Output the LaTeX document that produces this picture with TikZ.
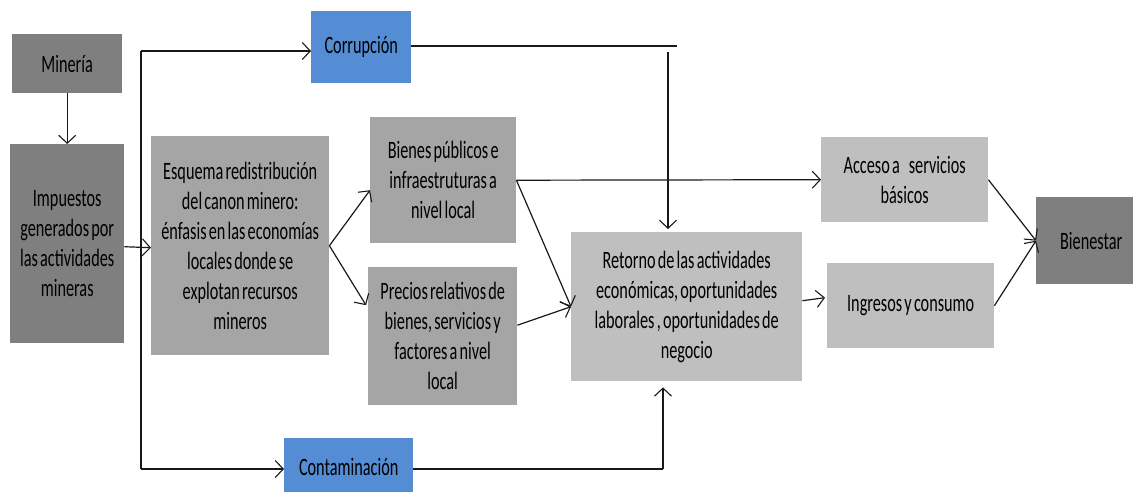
\documentclass[tikz,border=0pt]{standalone}
\usepackage{fontspec}
\setmainfont{Carlito}[FakeStretch=0.65, WordSpace=0.6]
\usetikzlibrary{calc, arrows.meta}
\definecolor{boxDark}{HTML}{7F7F7F}
\definecolor{boxMid}{HTML}{A5A5A5}
\definecolor{boxLight}{HTML}{BFBFBF}
\definecolor{boxBlue}{HTML}{548DD4}
\tikzset{
  stage box/.style={anchor=north west, inner sep=2pt, align=center, text=black,
    font=\fontsize{25}{30}\selectfont},
  dark box/.style={stage box, fill=boxDark},
  mid box/.style={stage box, fill=boxMid},
  light box/.style={stage box, fill=boxLight},
  risk box/.style={stage box, fill=boxBlue},
  flow line/.style={line width=1.2pt, black!90},
  flow arrow/.style={flow line, -{Straight Barb[length=8pt, width=17pt, line width=1.1pt]}},
}

\begin{document}
\begin{tikzpicture}[x=1pt, y=-1pt]
  \useasboundingbox (0,0) rectangle (1133,491);
  % boxes, placed by their top left corner
  \node[dark box, minimum width=110pt, minimum height=59pt] (mineria) at (12,34) {Minería};
  \node[dark box, minimum width=114pt, minimum height=199pt] (impuestos) at (10,144)
    {Impuestos\\generados por\\las actividades\\mineras};
  \node[mid box, minimum width=178pt, minimum height=219pt] (esquema) at (151,136)
    {Esquema redistribución\\del canon minero:\\énfasis en las economías\\locales donde se\\explotan recursos\\mineros};
  \node[risk box, minimum width=100pt, minimum height=72pt] (corr) at (311,11) {Corrupción};
  \node[risk box, minimum width=129pt, minimum height=58pt] (contam) at (284,438) {Contaminación};
  \node[mid box, minimum width=146pt, minimum height=126pt] (bienes) at (370,117)
    {Bienes públicos e\\infraestruturas a\\nivel local};
  \node[mid box, minimum width=149pt, minimum height=138pt] (precios) at (368,267)
    {Precios relativos de\\bienes, servicios y\\factores a nivel\\local};
  \node[light box, minimum width=231pt, minimum height=149pt] (retorno) at (571,232)
    {Retorno de las actividades\\económicas, oportunidades\\laborales , oportunidades de\\negocio};
  \node[light box, minimum width=167pt, minimum height=85pt] (acceso) at (821,137)
    {Acceso a\hspace{9pt}servicios\\básicos};
  \node[light box, minimum width=167pt, minimum height=85pt] (ingresos) at (827,263)
    {Ingresos y consumo};
  \node[dark box, minimum width=110pt, minimum height=87pt] (bienestar) at (1036,197) {Bienestar};

  % bus lines
  \coordinate (busTop) at (141,51);
  \coordinate (busBot) at (141,469);
  \coordinate (corrEnd) at (677,46);
  \coordinate (corrDrop) at (668,52);
  \coordinate (riseX) at (663,469);

  \draw[flow arrow] (mineria.south) -- (impuestos.north);
  \draw[flow arrow] ($(impuestos.east)+(0,3)$) -- ($(esquema.west)+(0,2)$);
  \draw[flow line] (busTop) -- (busBot);
  \draw[flow arrow] (busTop) -- (busTop -| corr.west);
  \draw[flow arrow] (busBot) -- (busBot -| contam.west);
  \draw[flow line] (corr.east |- corrEnd) -- (corrEnd);
  \draw[flow arrow, shorten >=3pt] (corrDrop) -- (corrDrop |- retorno.north);
  \draw[flow line] (contam.east |- riseX) -- (riseX);
  \draw[flow arrow, shorten >=6pt] (riseX) -- (riseX |- retorno.south);
  \draw[flow arrow] (esquema.east) -- ($(bienes.west)+(0,10)$);
  \draw[flow arrow] (esquema.east) -- ($(precios.west)+(-2,-31)$);
  \draw[flow arrow] (bienes.east) -- (acceso.west);
  \draw[flow arrow] (bienes.east) -- (retorno.west);
  \draw[flow arrow] ($(precios.east)+(0,-11)$) -- (retorno.west);
  \draw[flow arrow] ($(retorno.east)+(0,-6)$) -- ($(ingresos.west)+(-2,-8)$);
  \draw[flow arrow] (acceso.east) -- (bienestar.west);
  \draw[flow arrow] (ingresos.east) -- (bienestar.west);
\end{tikzpicture}
\end{document}
